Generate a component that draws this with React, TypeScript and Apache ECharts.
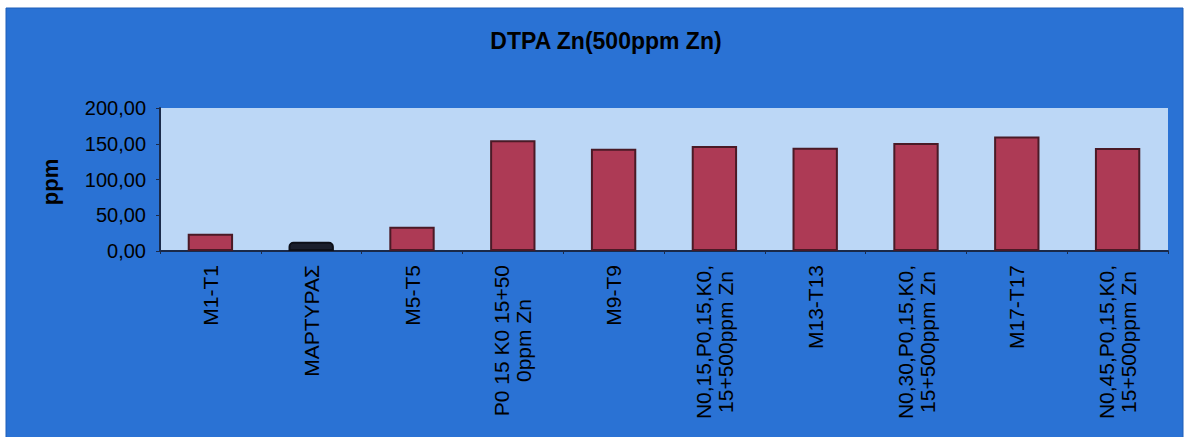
import React, { useEffect, useRef } from "react";
import * as echarts from "echarts";

const categories = [
  "M1-T1",
  "ΜΑΡΤΥΡΑΣ",
  "M5-T5",
  "P0 15 K0 15+50\n0ppm Zn",
  "M9-T9",
  "N0,15,P0,15,K0,\n15+500ppm Zn",
  "M13-T13",
  "N0,30,P0,15,K0,\n15+500ppm Zn",
  "M17-T17",
  "N0,45,P0,15,K0,\n15+500ppm Zn",
];
const values = [24, 13, 34, 155, 143, 147, 144.5, 151, 160, 144];
const controlCategory = "ΜΑΡΤΥΡΑΣ";
const yTicks = [0, 50, 100, 150, 200];
const titleText = "DTPA Zn(500ppm Zn)";
const yName = "ppm";

const FONT = "'Liberation Sans', Arial, sans-serif";

export default function App() {
  const ref = useRef<HTMLDivElement>(null);
  useEffect(() => {
    document.body.style.margin = "0";
    const chart = echarts.init(ref.current!, null, { renderer: "svg" });
    chart.setOption({
      animation: false,
      backgroundColor: "#ffffff",
      graphic: [
        {
          type: "rect",
          z: -10,
          shape: { x: 6, y: 8, width: 1177, height: 435 },
          style: { fill: "#2a72d4", stroke: "#1e5fb8", lineWidth: 1 },
        },
        {
          type: "text",
          x: 50,
          y: 182,
          rotation: Math.PI / 2,
          style: {
            text: yName,
            fill: "#000",
            font: `bold 22px ${FONT}`,
            align: "center",
            verticalAlign: "middle",
          },
        },
      ],
      title: {
        text: titleText,
        left: 601,
        top: 24,
        textAlign: "center",
        textStyle: { fontFamily: FONT, fontWeight: "bold", fontSize: 23, color: "#000" },
      },
      grid: { left: 160, right: 18, top: 108, bottom: 186, backgroundColor: "#bcd7f6", show: true, borderWidth: 0 },
      xAxis: {
        type: "category",
        data: categories,
        axisLine: { lineStyle: { color: "#1a2a4a", width: 2 } },
        axisTick: { show: true, length: 3, lineStyle: { color: "#1a2a4a" } },
        axisLabel: {
          interval: 0,
          rotate: 90,
          margin: 14,
          formatter: (v: string) => v.split("\n").map((l) => `{c|${l}}`).join("\n"),
          rich: {
            c: { align: "center", fontSize: 21, lineHeight: 22, color: "#000", fontFamily: FONT },
          },
        },
      },
      yAxis: {
        type: "value",
        min: yTicks[0],
        max: yTicks[yTicks.length - 1],
        interval: 50,
        splitLine: { show: false },
        axisLine: { show: true, lineStyle: { color: "#1a2a4a", width: 2 } },
        axisTick: { show: true, length: 4, lineStyle: { color: "#1a2a4a" } },
        axisLabel: {
          margin: 14,
          fontSize: 20,
          color: "#000",
          fontFamily: FONT,
          formatter: (v: number) => v.toFixed(2).replace(".", ","),
        },
      },
      series: [
        {
          type: "bar",
          barWidth: "45%",
          data: values.map((v, i) =>
            categories[i] === controlCategory
              ? { value: v, itemStyle: { color: "#1a1e2c", borderColor: "#0d0f18", borderWidth: 2, borderRadius: [4, 4, 0, 0] } }
              : v
          ),
          itemStyle: { color: "#ad3a55", borderColor: "#4a1a26", borderWidth: 2 },
        },
      ],
    });
    return () => chart.dispose();
  }, []);
  return <div ref={ref} style={{ width: 1186, height: 437 }} />;
}
